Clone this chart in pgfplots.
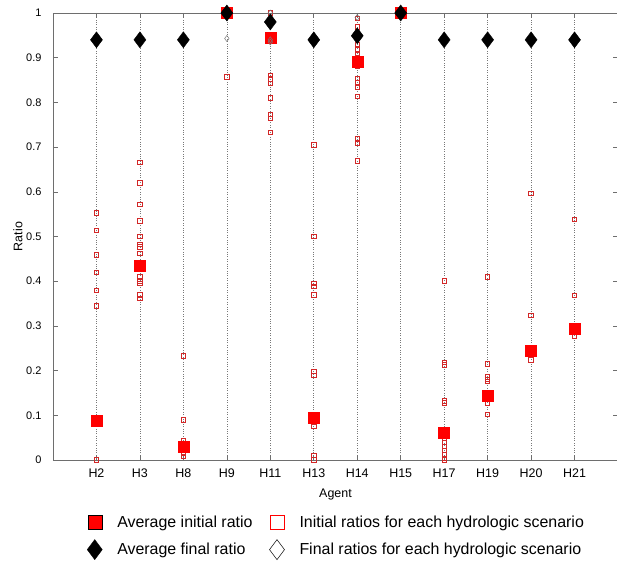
\documentclass[border=0pt]{standalone}
\usepackage{fontspec}
\setmainfont{Liberation Sans}
\usepackage{pgfplots}
\pgfplotsset{compat=1.18}
\usetikzlibrary{calc}
\definecolor{mred}{RGB}{255,0,0}
\definecolor{sred}{RGB}{210,40,40}
\definecolor{sgray}{RGB}{120,120,120}
\definecolor{axgray}{RGB}{110,110,110}
\begin{document}
\begin{tikzpicture}
\begin{axis}[
  scale only axis,
  width=565bp, height=447bp,
  xmin=0, xmax=13, ymin=0, ymax=1,
  xtick={1,...,12},
  xticklabels={H2,H3,H8,H9,H11,H13,H14,H15,H17,H19,H20,H21},
  ytick={0,0.1,0.2,0.3,0.4,0.5,0.6,0.7,0.8,0.9,1},
  yticklabels={0,0.1,0.2,0.3,0.4,0.5,0.6,0.7,0.8,0.9,1},
  tick align=inside,
  major tick length=5bp,
  tick style={axgray, line width=0.6pt},
  axis line style={axgray, line width=0.8pt},
  xmajorgrids,
  major grid style={sgray, dotted, line width=0.6pt},
  /pgf/number format/assume math mode=true,
  xticklabel style={font=\fontsize{12.5}{14}\selectfont, yshift=-5bp},
  yticklabel style={font=\fontsize{11}{13}\selectfont, xshift=-8bp},
  xlabel={Agent}, ylabel={Ratio},
  label style={font=\fontsize{12.5}{14}\selectfont},
  xlabel style={yshift=-5bp},
  ylabel style={yshift=-3bp},
  legend columns=2,
  legend style={draw=none, fill=none, at={(axis description cs:0.055,-0.115)}, anchor=north west,
    font=\fontsize{16}{18}\selectfont, row sep=9bp,
    /tikz/every odd column/.append style={column sep=13bp},
    /tikz/every even column/.append style={column sep=15bp}},
  legend cell align=left,
  clip=false,
]
% initial ratios for each scenario
\addplot[forget plot, only marks, mark=square, mark size=2.2bp, sred, mark options={draw=sred, line width=0.8pt}] coordinates {
(1,0.553)(1,0.513)(1,0.459)(1,0.42)(1,0.379)(1,0.345)(1,0)
(2,0.666)(2,0.62)(2,0.572)(2,0.535)(2,0.5)(2,0.483)(2,0.477)(2,0.462)(2,0.41)(2,0.401)(2,0.395)(2,0.369)(2,0.362)
(3,0.233)(3,0.09)(3,0.043)(3,0.035)(3,0.025)(3,0.015)(3,0.008)
(4,1.0)(4,0.857)
(5,1.0)(5,0.861)(5,0.853)(5,0.843)(5,0.81)(5,0.773)(5,0.764)(5,0.733)
(6,0.705)(6,0.5)(6,0.395)(6,0.388)(6,0.369)(6,0.198)(6,0.189)(6,0.075)(6,0.01)(6,0.0)
(7,0.988)(7,0.969)(7,0.955)(7,0.93)(7,0.917)(7,0.91)(7,0.88)(7,0.854)(7,0.845)(7,0.834)(7,0.813)(7,0.72)(7,0.708)(7,0.669)
(8,1.0)
(9,0.401)(9,0.218)(9,0.213)(9,0.132)(9,0.128)(9,0.049)(9,0.04)(9,0.031)(9,0.022)(9,0.013)(9,0.004)(9,0)
(10,0.41)(10,0.215)(10,0.186)(10,0.18)(10,0.176)(10,0.128)(10,0.102)
(11,0.597)(11,0.323)(11,0.224)
(12,0.538)(12,0.368)(12,0.277)
};
% average initial ratio
\addplot[forget plot, only marks, mark=square*, mark size=5.5bp, mred, mark options={draw=mred, fill=mred}] coordinates {
(1,0.088)(2,0.434)(3,0.03)(4,1.0)(5,0.945)(6,0.095)(7,0.891)(8,1.0)(9,0.062)(10,0.143)(11,0.244)(12,0.293)
};
% final ratios for each scenario
\addplot[forget plot, only marks, mark=diamond, mark size=3bp, sgray, mark options={draw=sgray, line width=0.5pt}] coordinates {
(1,0.94)(2,0.94)(3,0.94)(4,1.0)(4,0.943)(5,1.0)(5,0.94)(5,0.935)(6,0.94)(7,0.95)(7,0.99)(8,1.0)(9,0.94)(10,0.94)(11,0.94)(12,0.94)
};
% average final ratio
\addplot[forget plot, only marks, mark=diamond*, mark size=8bp, black, mark options={fill=black}] coordinates {
(1,0.94)(2,0.94)(3,0.94)(4,1.0)(5,0.98)(6,0.94)(7,0.949)(8,1.0)(9,0.94)(10,0.94)(11,0.94)(12,0.94)
};
\addlegendimage{only marks, mark=square*, mark size=7bp, mred, mark options={draw=black, fill=mred, line width=0.5pt}}
\addlegendentry{Average initial ratio}
\addlegendimage{only marks, mark=square, mark size=7bp, mred, mark options={draw=mred, line width=0.7pt}}
\addlegendentry{Initial ratios for each hydrologic scenario}
\addlegendimage{only marks, mark=diamond*, mark size=10bp, black, mark options={fill=black}}
\addlegendentry{Average final ratio}
\addlegendimage{only marks, mark=diamond, mark size=10bp, black, mark options={draw=black, line width=0.5pt}}
\addlegendentry{Final ratios for each hydrologic scenario}
\end{axis}
\pgfresetboundingbox
\path[use as bounding box] ($(current axis.south west)+(-53bp,-110bp)$) rectangle ($(current axis.south west)+(564bp,460bp)$);
\end{tikzpicture}
\end{document}
